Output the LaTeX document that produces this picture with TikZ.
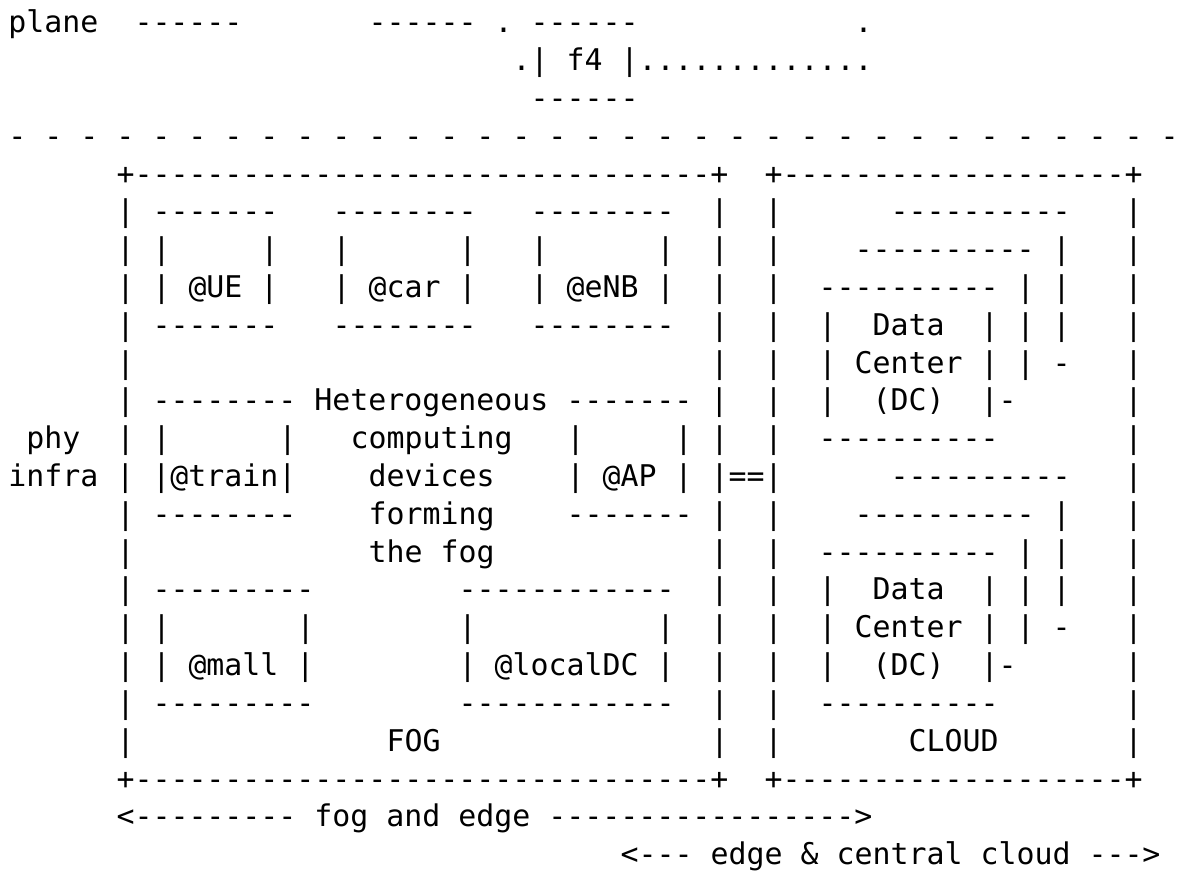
\documentclass[tikz,border=0pt]{standalone}
\usepackage{fontspec}
\setmonofont{DejaVu Sans Mono}
\frenchspacing
\tikzset{ascii/.style={anchor=base west,inner sep=0pt,outer sep=0pt,font=\ttfamily\fontsize{14.95}{18.9}\selectfont}}
\begin{document}
\begin{tikzpicture}[x=9pt,y=-18.9pt]
        \useasboundingbox (-4.25pt,16.5pt) rectangle (584.75pt,-419pt);
        % plane
        \node[ascii] (r0a)  at (0,0)  {plane};
        \node[ascii] (r0b)  at (7,0)  {------};
        \node[ascii] (r0c)  at (20,0) {------ . ------};
        \node[ascii] (r0d)  at (47,0) {.};
        \node[ascii] (f4)   at (28,1) {.| f4 |.............};
        \node[ascii] (r2a)  at (29,2) {------};
        \node[ascii] (sep)  at (0,3)  {- - - - - - - - - - - - - - - - - - - - - - - - - - - - - - - - -};

        % fog and cloud boxes
        \node[ascii] (fogtop)   at (6,4)  {+--------------------------------+};
        \node[ascii] (cloudtop) at (42,4) {+-------------------+};

        \node[ascii] (r5a)  at (6,5)  {| -------};
        \node[ascii] (r5b)  at (18,5) {--------};
        \node[ascii] (r5c)  at (29,5) {--------};
        \node[ascii] (r5d)  at (39,5) {|};
        \node[ascii] (r5e)  at (42,5) {|};
        \node[ascii] (r5f)  at (49,5) {----------};
        \node[ascii] (r5g)  at (62,5) {|};

        \node[ascii] (r6a)  at (6,6)  {| |};
        \node[ascii] (r6b)  at (14,6) {|};
        \node[ascii] (r6c)  at (18,6) {|};
        \node[ascii] (r6d)  at (25,6) {|};
        \node[ascii] (r6e)  at (29,6) {|};
        \node[ascii] (r6f)  at (36,6) {|};
        \node[ascii] (r6g)  at (39,6) {|};
        \node[ascii] (r6h)  at (42,6) {|};
        \node[ascii] (r6i)  at (47,6) {---------- |};
        \node[ascii] (r6j)  at (62,6) {|};

        \node[ascii] (ue)   at (6,7)  {| | @UE |};
        \node[ascii] (car)  at (18,7) {| @car |};
        \node[ascii] (enb)  at (29,7) {| @eNB |};
        \node[ascii] (r7d)  at (39,7) {|};
        \node[ascii] (r7e)  at (42,7) {|};
        \node[ascii] (r7f)  at (45,7) {---------- | |};
        \node[ascii] (r7g)  at (62,7) {|};

        \node[ascii] (r8a)  at (6,8)  {| -------};
        \node[ascii] (r8b)  at (18,8) {--------};
        \node[ascii] (r8c)  at (29,8) {--------};
        \node[ascii] (r8d)  at (39,8) {|};
        \node[ascii] (r8e)  at (42,8) {|};
        \node[ascii] (r8f)  at (45,8) {|};
        \node[ascii] (dc1a) at (48,8) {Data};
        \node[ascii] (r8g)  at (54,8) {| | |};
        \node[ascii] (r8h)  at (62,8) {|};

        \node[ascii] (r9a)  at (6,9)  {|};
        \node[ascii] (r9b)  at (39,9) {|};
        \node[ascii] (r9c)  at (42,9) {|};
        \node[ascii] (dc1b) at (45,9) {| Center | | -};
        \node[ascii] (r9d)  at (62,9) {|};

        \node[ascii] (het)  at (6,10)  {| -------- Heterogeneous ------- |};
        \node[ascii] (r10a) at (42,10) {|};
        \node[ascii] (r10b) at (45,10) {|};
        \node[ascii] (dc1c) at (48,10) {(DC)};
        \node[ascii] (r10c) at (54,10) {|-};
        \node[ascii] (r10d) at (62,10) {|};

        \node[ascii] (phy)  at (1,11)  {phy};
        \node[ascii] (r11a) at (6,11)  {| |};
        \node[ascii] (r11b) at (15,11) {|};
        \node[ascii] (comp) at (19,11) {computing};
        \node[ascii] (r11c) at (31,11) {|};
        \node[ascii] (r11d) at (37,11) {| |};
        \node[ascii] (r11e) at (42,11) {|};
        \node[ascii] (r11f) at (45,11) {----------};
        \node[ascii] (r11g) at (62,11) {|};

        \node[ascii] (train) at (0,12)  {infra | |@train|};
        \node[ascii] (dev)   at (20,12) {devices};
        \node[ascii] (ap)    at (31,12) {| @AP | |==|};
        \node[ascii] (r12a)  at (49,12) {----------};
        \node[ascii] (r12b)  at (62,12) {|};

        \node[ascii] (r13a) at (6,13)  {| --------};
        \node[ascii] (form) at (20,13) {forming};
        \node[ascii] (r13b) at (31,13) {------- |};
        \node[ascii] (r13c) at (42,13) {|};
        \node[ascii] (r13d) at (47,13) {---------- |};
        \node[ascii] (r13e) at (62,13) {|};

        \node[ascii] (r14a) at (6,14)  {|};
        \node[ascii] (thef) at (20,14) {the fog};
        \node[ascii] (r14b) at (39,14) {|};
        \node[ascii] (r14c) at (42,14) {|};
        \node[ascii] (r14d) at (45,14) {---------- | |};
        \node[ascii] (r14e) at (62,14) {|};

        \node[ascii] (r15a) at (6,15)  {| ---------};
        \node[ascii] (r15b) at (25,15) {------------};
        \node[ascii] (r15c) at (39,15) {|};
        \node[ascii] (r15d) at (42,15) {|};
        \node[ascii] (r15e) at (45,15) {|};
        \node[ascii] (dc2a) at (48,15) {Data};
        \node[ascii] (r15f) at (54,15) {| | |};
        \node[ascii] (r15g) at (62,15) {|};

        \node[ascii] (r16a) at (6,16)  {| |};
        \node[ascii] (r16b) at (16,16) {|};
        \node[ascii] (r16c) at (25,16) {|};
        \node[ascii] (r16d) at (36,16) {|};
        \node[ascii] (r16e) at (39,16) {|};
        \node[ascii] (r16f) at (42,16) {|};
        \node[ascii] (dc2b) at (45,16) {| Center | | -};
        \node[ascii] (r16g) at (62,16) {|};

        \node[ascii] (mall)  at (6,17)  {| | @mall |};
        \node[ascii] (ldc)   at (25,17) {| @localDC |};
        \node[ascii] (r17a)  at (39,17) {|};
        \node[ascii] (r17b)  at (42,17) {|};
        \node[ascii] (r17c)  at (45,17) {|};
        \node[ascii] (dc2c)  at (48,17) {(DC)};
        \node[ascii] (r17d)  at (54,17) {|-};
        \node[ascii] (r17e)  at (62,17) {|};

        \node[ascii] (r18a) at (6,18)  {| ---------};
        \node[ascii] (r18b) at (25,18) {------------};
        \node[ascii] (r18c) at (39,18) {|};
        \node[ascii] (r18d) at (42,18) {|};
        \node[ascii] (r18e) at (45,18) {----------};
        \node[ascii] (r18f) at (62,18) {|};

        \node[ascii] (r19a)  at (6,19)  {|};
        \node[ascii] (fog)   at (21,19) {FOG};
        \node[ascii] (r19b)  at (39,19) {|};
        \node[ascii] (r19c)  at (42,19) {|};
        \node[ascii] (cloud) at (50,19) {CLOUD};
        \node[ascii] (r19d)  at (62,19) {|};

        \node[ascii] (fogbot)   at (6,20)  {+--------------------------------+};
        \node[ascii] (cloudbot) at (42,20) {+-------------------+};

        % ranges
        \node[ascii] (fogedge)  at (6,21)  {<--------- fog and edge ----------------->};
        \node[ascii] (central)  at (34,22) {<--- edge \& central cloud --->};
    \end{tikzpicture}
\end{document}
